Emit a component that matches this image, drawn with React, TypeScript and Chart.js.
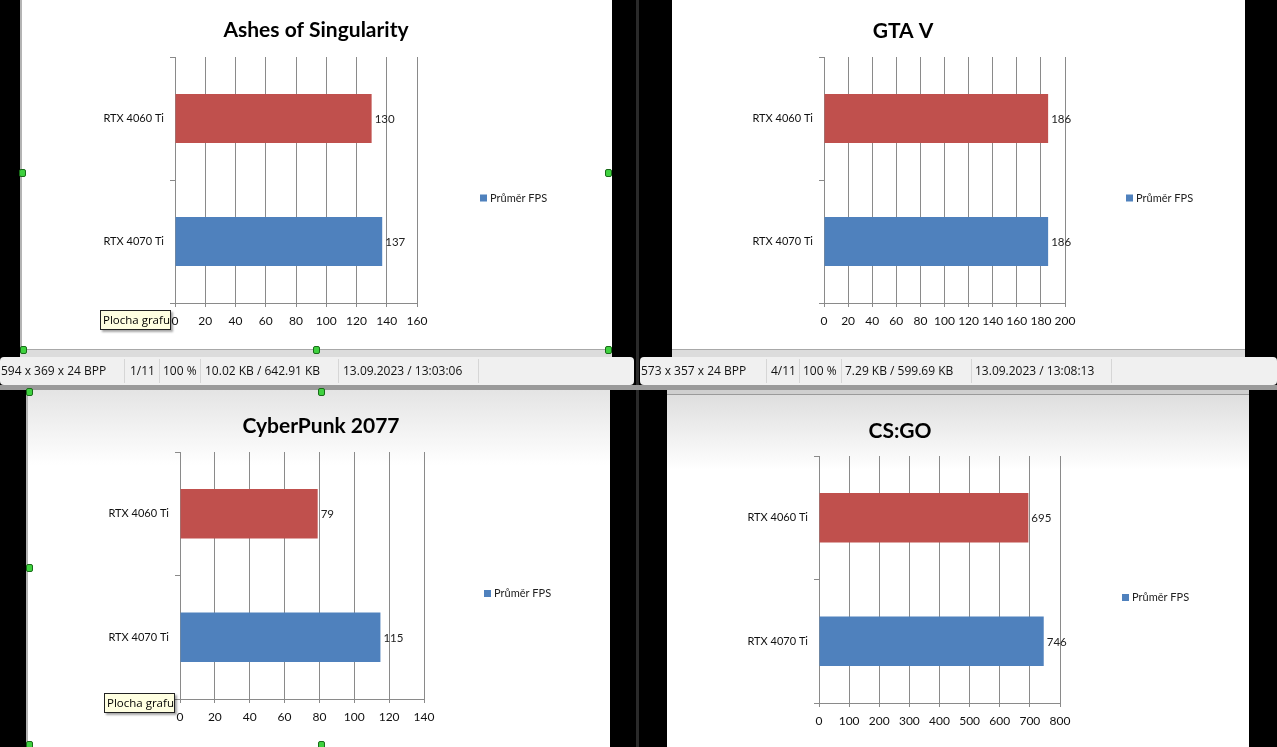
import React, { useEffect, useRef } from 'react';
import { Chart, registerables } from 'chart.js';

Chart.register(...registerables);

// ---- data ----
const categories = ['RTX 4060 Ti', 'RTX 4070 Ti'];
const seriesName = 'Průměr FPS';
const barColors = ['#C0504D', '#4F81BD'];

const ashesTitle = 'Ashes of Singularity';
const ashesValues = [130, 137];
const ashesTicks = [0, 20, 40, 60, 80, 100, 120, 140, 160];

const gtaTitle = 'GTA V';
const gtaValues = [186, 186];
const gtaTicks = [0, 20, 40, 60, 80, 100, 120, 140, 160, 180, 200];

const cyberTitle = 'CyberPunk 2077';
const cyberValues = [79, 115];
const cyberTicks = [0, 20, 40, 60, 80, 100, 120, 140];

const csgoTitle = 'CS:GO';
const csgoValues = [695, 746];
const csgoTicks = [0, 100, 200, 300, 400, 500, 600, 700, 800];

const leftStatus = ['594 x 369 x 24 BPP', '1/11', '100 %', '10.02 KB / 642.91 KB', '13.09.2023 / 13:03:06'];
const rightStatus = ['573 x 357 x 24 BPP', '4/11', '100 %', '7.29 KB / 599.69 KB', '13.09.2023 / 13:08:13'];

const FONT = 'Lato, "Open Sans", sans-serif';
const GRID = '#8a8a8a';

const valueLabels = {
  id: 'valueLabels',
  afterDatasetsDraw(chart: any) {
    const ctx = chart.ctx;
    const meta = chart.getDatasetMeta(0);
    const data = chart.data.datasets[0].data;
    ctx.save();
    ctx.font = `11.5px ${FONT}`;
    ctx.fillStyle = '#222';
    ctx.textAlign = 'left';
    ctx.textBaseline = 'middle';
    meta.data.forEach((bar: any, i: number) => {
      ctx.fillText(String(data[i]), bar.x + 3, bar.y + 1);
    });
    ctx.restore();
  },
};

const sideLegend = {
  id: 'sideLegend',
  afterDraw(chart: any, _args: any, opts: any) {
    const ctx = chart.ctx;
    const a = chart.chartArea;
    const x = a.right + opts.dx;
    const y = (a.top + a.bottom) / 2 + opts.dy;
    ctx.save();
    ctx.fillStyle = chart.data.datasets[0].backgroundColor[1];
    ctx.fillRect(x, y - 3.5, 7, 7);
    ctx.font = `11px ${FONT}`;
    ctx.fillStyle = '#222';
    ctx.textAlign = 'left';
    ctx.textBaseline = 'middle';
    ctx.fillText(chart.data.datasets[0].label, x + 10, y);
    ctx.restore();
  },
};

type Spec = {
  title: string;
  values: number[];
  ticks: number[];
  w: number;
  h: number;
  padL: number;
  padR: number;
  padB: number;
  titleTop: number;
  titleBottom: number;
  yW: number;
  gap: number;
  legendDx: number;
};

function BarChart({ spec }: { spec: Spec }) {
  const ref = useRef<HTMLCanvasElement | null>(null);
  useEffect(() => {
    if (!ref.current) return;
    const t = spec.ticks;
    const chart = new Chart(ref.current, {
      type: 'bar',
      data: {
        labels: categories,
        datasets: [
          {
            label: seriesName,
            data: spec.values,
            backgroundColor: barColors,
            borderWidth: 0,
            categoryPercentage: 1,
            barPercentage: 0.4,
          },
        ],
      },
      plugins: [valueLabels, sideLegend],
      options: {
        indexAxis: 'y',
        responsive: false,
        animation: false,
        devicePixelRatio: 1,
        layout: { padding: { left: spec.padL, right: spec.padR, top: 0, bottom: spec.padB } },
        scales: {
          x: {
            type: 'linear',
            min: t[0],
            max: t[t.length - 1],
            afterBuildTicks: (s: any) => {
              s.ticks = t.map((v) => ({ value: v }));
            },
            grid: { color: GRID, tickLength: 4, lineWidth: 1 },
            border: { color: GRID },
            ticks: { color: '#111', font: { family: FONT, size: 12 }, padding: 7, maxRotation: 0, autoSkip: false },
            afterFit: (s: any) => {
              s.height = 30;
            },
          },
          y: {
            type: 'category',
            grid: { display: true, drawOnChartArea: false, drawTicks: true, tickLength: 5, offset: true, color: GRID },
            border: { color: GRID },
            ticks: { color: '#111', font: { family: FONT, size: 11 }, padding: 6 },
            afterFit: (s: any) => {
              s.width = spec.yW;
            },
          },
          gap: {
            type: 'linear',
            position: 'right',
            display: true,
            grid: { display: false, drawTicks: false },
            border: { display: false },
            ticks: { display: false },
            afterFit: (s: any) => {
              s.width = spec.gap;
            },
          },
        },
        plugins: {
          legend: { display: false },
          tooltip: { enabled: false },
          title: {
            display: true,
            text: spec.title,
            color: '#000',
            font: { family: FONT, size: 21, weight: 'bold', lineHeight: 1.2 },
            padding: { top: spec.titleTop, bottom: spec.titleBottom },
          },
          sideLegend: { dx: spec.legendDx, dy: 18 },
        } as any,
      } as any,
    });
    return () => chart.destroy();
  }, [spec]);
  return <canvas ref={ref} width={spec.w} height={spec.h} style={{ display: 'block' }} />;
}

const specTL: Spec = { title: ashesTitle, values: ashesValues, ticks: ashesTicks, w: 590, h: 350, padL: 0, padR: 2, padB: 17, titleTop: 17.5, titleBottom: 14.3, yW: 153, gap: 193, legendDx: 63 };
const specTR: Spec = { title: gtaTitle, values: gtaValues, ticks: gtaTicks, w: 573, h: 350, padL: 0, padR: 111, padB: 17, titleTop: 19, titleBottom: 12.8, yW: 152, gap: 69, legendDx: 61 };
const specBL: Spec = { title: cyberTitle, values: cyberValues, ticks: cyberTicks, w: 582, h: 357, padL: 4, padR: 0, padB: 18, titleTop: 23.4, titleBottom: 13.4, yW: 148, gap: 186, legendDx: 60 };
const specBR: Spec = { title: csgoTitle, values: csgoValues, ticks: csgoTicks, w: 582, h: 357, padL: 0, padR: 116, padB: 14, titleTop: 29, titleBottom: 11.8, yW: 152, gap: 73, legendDx: 62 };

const abs = (x: number, y: number, w: number, h: number, extra: React.CSSProperties = {}): React.CSSProperties => ({
  position: 'absolute',
  left: x,
  top: y,
  width: w,
  height: h,
  ...extra,
});

function StatusBar({ x, w, items, seps, starts }: { x: number; w: number; items: string[]; seps: number[]; starts: number[] }) {
  return (
    <div style={abs(x, 357, w, 28, { background: '#f0f0f0', borderRadius: 4, fontFamily: '"Open Sans", "Noto Sans", sans-serif', fontSize: 12, color: '#111' })}>
      {items.map((s, i) => (
        <span key={i} style={{ position: 'absolute', left: starts[i], top: 5, whiteSpace: 'nowrap' }}>
          {s}
        </span>
      ))}
      {seps.map((s, i) => (
        <div key={'s' + i} style={abs(s, 2, 1, 24, { background: '#d6d6d6' })} />
      ))}
    </div>
  );
}

function Handle({ x, y }: { x: number; y: number }) {
  return <div style={abs(x - 3, y - 4, 7, 8, { background: '#3fd13f', border: '1px solid #1a6b1a', boxSizing: 'border-box', borderRadius: 2 })} />;
}

function Tip({ x, y }: { x: number; y: number }) {
  return (
    <div
      style={abs(x, y, 71, 20, {
        background: '#ffffe1',
        border: '1px solid #222',
        boxSizing: 'border-box',
        fontFamily: '"Open Sans", "Noto Sans", sans-serif',
        fontSize: 11.5,
        lineHeight: '18px',
        paddingLeft: 2,
        whiteSpace: 'nowrap',
        color: '#000',
        boxShadow: '2px 2px 2px rgba(0,0,0,0.35)',
      })}
    >
      Plocha grafu
    </div>
  );
}

export default function App() {
  return (
    <div style={{ position: 'fixed', left: 0, top: 0, width: 1277, height: 747, background: '#000', overflow: 'hidden' }}>
      {/* top-left panel */}
      <div style={abs(20, 0, 2, 352, { background: '#b4b4b4' })} />
      <div style={abs(22, 0, 590, 350, { background: '#fff' })}>
        <BarChart spec={specTL} />
      </div>
      <div style={abs(20, 349, 592, 8, { background: '#dcdcdc', borderTop: '1px solid #a8a8a8', boxSizing: 'border-box' })} />
      <Tip x={100} y={310} />
      <Handle x={22} y={173} />
      <Handle x={608} y={173} />
      <Handle x={316} y={350} />
      <Handle x={23} y={350} />
      <Handle x={608} y={350} />

      {/* top-right panel */}
      <div style={abs(672, 0, 573, 350, { background: '#fff' })}>
        <BarChart spec={specTR} />
      </div>
      <div style={abs(672, 349, 573, 8, { background: '#dcdcdc', borderTop: '1px solid #a8a8a8', boxSizing: 'border-box' })} />

      {/* divider */}
      <div style={abs(636, 0, 3, 747, { background: '#2a2a2a' })} />

      {/* status bars */}
      <StatusBar x={0} w={634} items={leftStatus} seps={[124, 159, 200, 338, 478]} starts={[1, 130, 163, 205, 343]} />
      <StatusBar x={640} w={637} items={rightStatus} seps={[126, 159, 201, 331, 471]} starts={[1, 131, 163, 205, 335]} />
      <div style={abs(0, 385, 1277, 5, { background: '#9a9a9a' })} />

      {/* bottom-left panel */}
      <div style={abs(26, 390, 2, 357, { background: '#b4b4b4' })} />
      <div style={abs(28, 390, 582, 357, { background: 'linear-gradient(#e4e4e4, #ffffff 75px)' })}>
        <BarChart spec={specBL} />
      </div>
      <Tip x={104} y={693} />
      <Handle x={29} y={392} />
      <Handle x={321} y={392} />
      <Handle x={29} y={568} />
      <Handle x={29} y={745} />
      <Handle x={321} y={745} />

      {/* bottom-right panel */}
      <div style={abs(667, 390, 582, 357, { background: 'linear-gradient(#dcdcdc, #ffffff 80px)' })}>
        <BarChart spec={specBR} />
      </div>
      <div style={abs(667, 390, 582, 5, { background: '#cfcfcf', borderBottom: '1px solid #9a9a9a', boxSizing: 'border-box' })} />
    </div>
  );
}
